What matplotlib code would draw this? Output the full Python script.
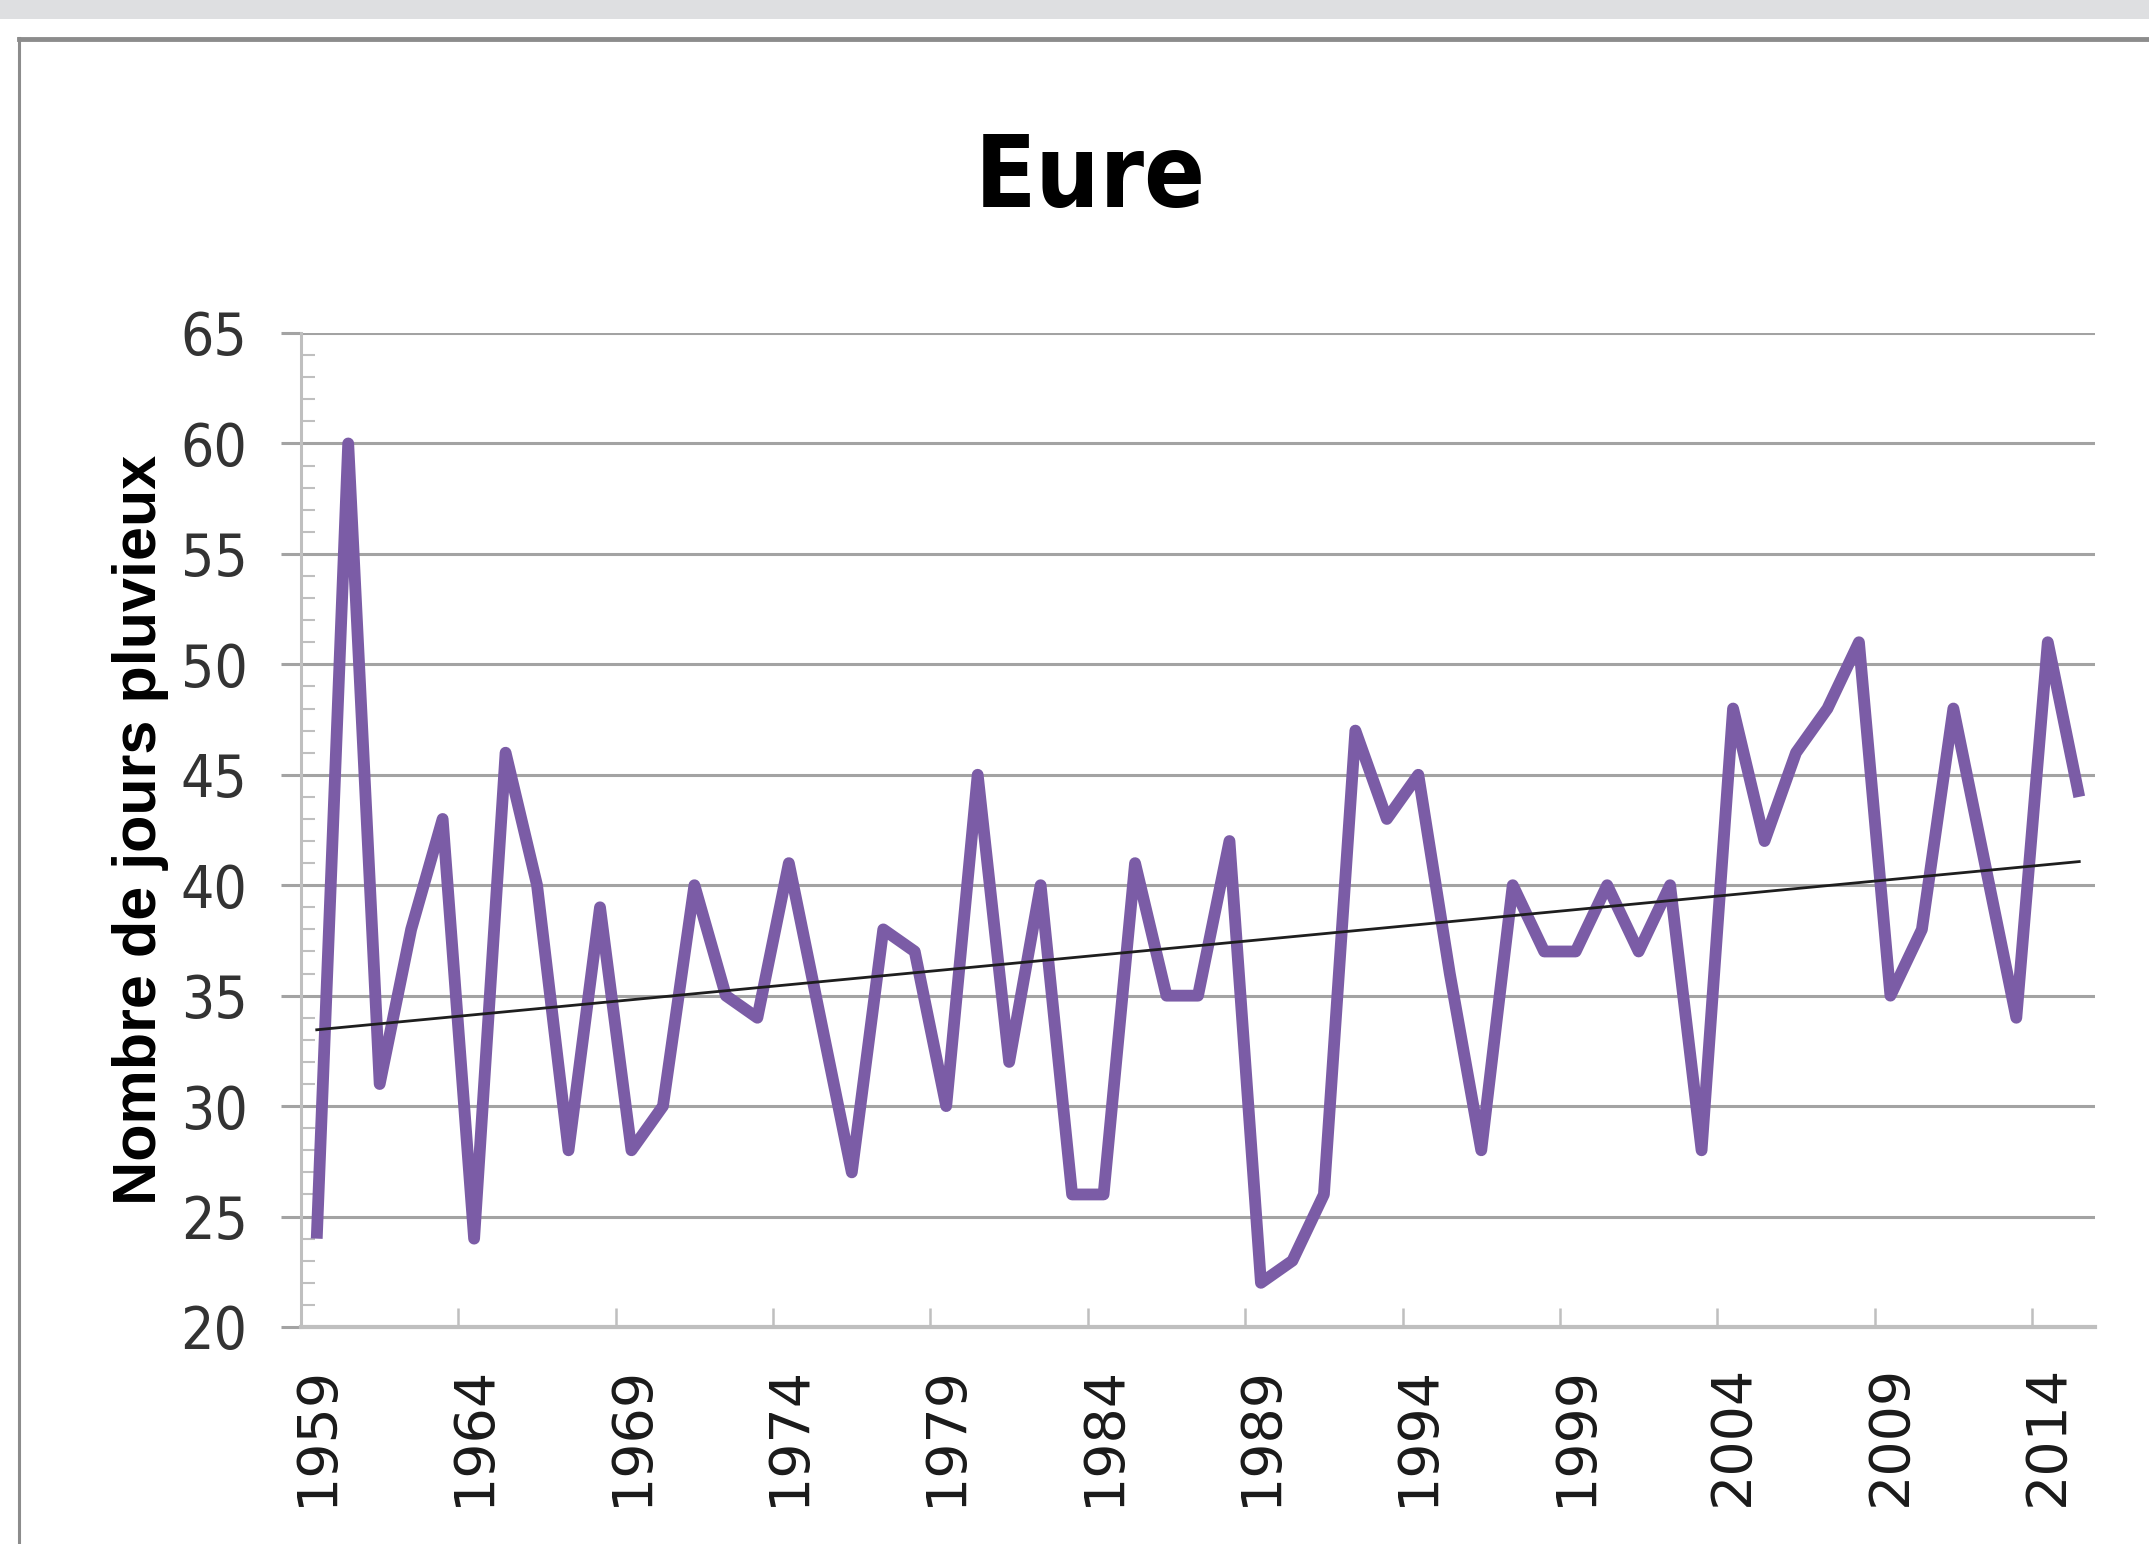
"""
Eure: nombre de jours pluvieux par an (1959-2015) avec tendance linéaire.
"""

import numpy as np
import matplotlib
matplotlib.use("Agg")
import matplotlib.pyplot as plt
from matplotlib.lines import Line2D
from matplotlib.patches import Rectangle
from matplotlib.ticker import FixedLocator, MultipleLocator

TITLE = "Eure"
Y_LABEL = "Nombre de jours pluvieux"

YEARS = list(range(1959, 2016))
RAINY_DAYS = [24, 60, 31, 38, 43, 24, 46, 40, 28, 39,
              28, 30, 40, 35, 34, 41, 34, 27, 38, 37,
              30, 45, 32, 40, 26, 26, 41, 35, 35, 42,
              22, 23, 26, 47, 43, 45, 36, 28, 40, 37,
              37, 40, 37, 40, 28, 48, 42, 46, 48, 51,
              35, 38, 48, 41, 34, 51, 44]
LABEL_YEARS = [1959, 1964, 1969, 1974, 1979, 1984, 1989, 1994, 1999, 2004, 2009, 2014]
Y_TICKS = [20, 25, 30, 35, 40, 45, 50, 55, 60, 65]

LINE_COLOR = "#7B5CA6"
GRID_COLOR = "#A3A3A3"
AXIS_COLOR = "#BFBFBF"
NARROW = ["DejaVu Sans"]

W, H = 2149, 1544
fig = plt.figure(figsize=(W / 100, H / 100), dpi=100)
fig.patch.set_facecolor("white")

# window chrome: grey strip on top and the chart frame
fig.add_artist(Rectangle((0, 1 - 19 / H), 1, 19 / H, transform=fig.transFigure,
                         facecolor="#DEDFE1", edgecolor="none"))
fig.add_artist(Line2D([19 / W, 19 / W], [0, 1 - 38 / H], transform=fig.transFigure,
                      color="#8C8C8C", linewidth=2.2))
fig.add_artist(Line2D([19 / W, 1], [1 - 39 / H, 1 - 39 / H], transform=fig.transFigure,
                      color="#8C8C8C", linewidth=3.5))

ax = fig.add_axes([301 / W, 1 - 1327 / H, (2095 - 301) / W, (1327 - 333) / H])

x = np.arange(len(YEARS))
y = np.array(RAINY_DAYS, dtype=float)

ax.plot(x, y, color=LINE_COLOR, linewidth=8.5, solid_joinstyle="round",
        solid_capstyle="butt", zorder=3)

# linear trend like Excel's trendline
slope, intercept = np.polyfit(x, y, 1)
ax.plot([x[0], x[-1]], [intercept, intercept + slope * x[-1]],
        color="#1E1E1E", linewidth=2.0, zorder=4)

ax.set_xlim(-0.5, len(YEARS) - 0.5)
ax.set_ylim(20, 65)

# y axis
ax.yaxis.set_major_locator(FixedLocator(Y_TICKS))
ax.yaxis.set_minor_locator(MultipleLocator(1))
ax.grid(axis="y", which="major", color=GRID_COLOR, linewidth=2.2, zorder=0)
ax.tick_params(axis="y", which="major", direction="out", length=14.5, width=2.2,
               color=GRID_COLOR, pad=24, labelsize=42, labelcolor="#333333")
ax.tick_params(axis="y", which="minor", direction="in", length=10, width=1.5,
               color=AXIS_COLOR)
for lab in ax.get_yticklabels():
    lab.set_family(NARROW)
    lab.set_stretch("condensed")

# x axis: labels centred on categories, ticks between categories
label_pos = [YEARS.index(yr) for yr in LABEL_YEARS]
ax.xaxis.set_major_locator(FixedLocator(label_pos))
ax.set_xticklabels([str(yr) for yr in LABEL_YEARS], rotation=90,
                   fontsize=40, color="#1A1A1A")
ax.xaxis.set_minor_locator(FixedLocator([p - 0.5 for p in label_pos]))
ax.tick_params(axis="x", which="major", length=0, pad=27)
ax.tick_params(axis="x", which="minor", direction="in", length=14, width=1.8,
               color=AXIS_COLOR)

for side in ("top", "right"):
    ax.spines[side].set_visible(False)
ax.spines["left"].set_color(AXIS_COLOR)
ax.spines["left"].set_linewidth(2.2)
ax.spines["bottom"].set_color(AXIS_COLOR)
ax.spines["bottom"].set_linewidth(3.0)

fig.text(1090 / W, 1 - 180 / H, TITLE, ha="center", va="center",
         fontsize=72, fontweight="bold", family=NARROW, stretch="condensed")
fig.text(141 / W, 1 - 830 / H, Y_LABEL, ha="center", va="center", rotation=90,
         fontsize=44, fontweight="bold", family=["Liberation Sans", "DejaVu Sans"])

fig.savefig("out.png", dpi=100)
